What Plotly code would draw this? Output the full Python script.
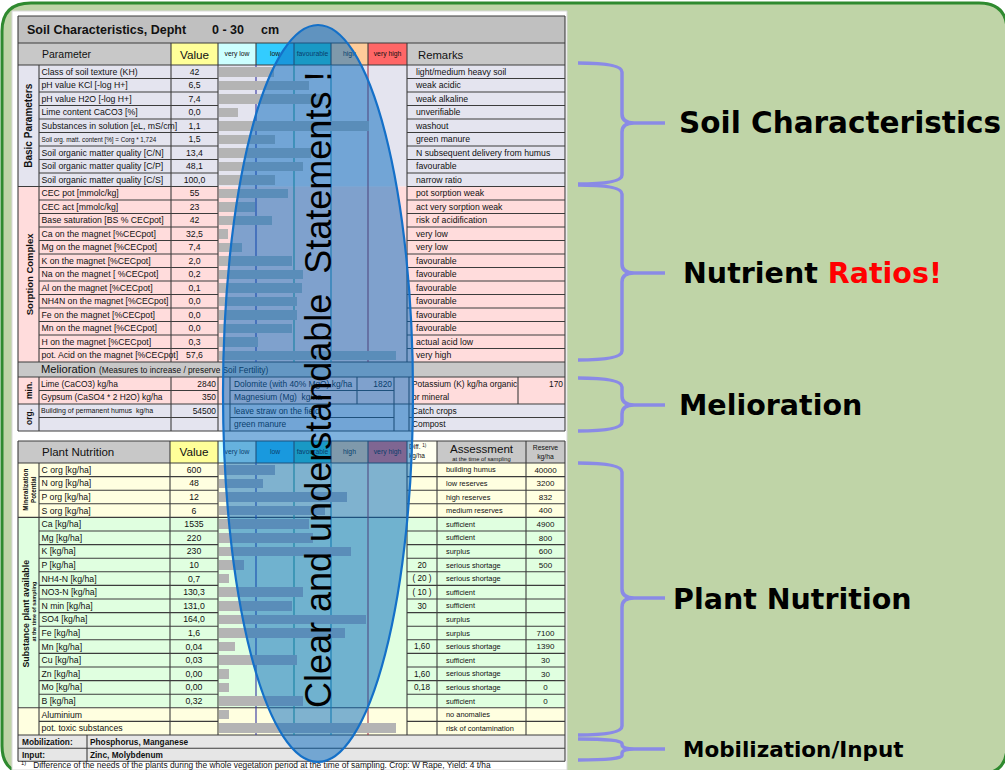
import plotly.graph_objects as go

W, H = 1005, 770
FONT = "Liberation Sans, Arial, sans-serif"

# ---------------- data ----------------
title_main = "Soil Characteristics, Depht"
depth = "0 - 30"
depth_unit = "cm"
rating_labels = ["very low", "low", "favourable", "high", "very high"]
rating_colors = ["#ccffff", "#33ccff", "#33cccc", "#ffcc99", "#ff6666"]

basic_params = ["Class of soil texture (KH)", "pH value KCl [-log H+]", "pH value H2O [-log H+]",
                "Lime content CaCO3 [%]", "Substances in solution [eL, mS/cm]",
                "Soil org. matt. content [%] = Corg * 1,724", "Soil organic matter quality [C/N]",
                "Soil organic matter quality [C/P]", "Soil organic matter quality [C/S]"]
basic_values = ["42", "6,5", "7,4", "0,0", "1,1", "1,5", "13,4", "48,1", "100,0"]
basic_scores = [1.47, 2.42, 2.79, 0.53, 4.0, 1.5, 2.47, 2.26, 1.5]
basic_remarks = ["light/medium heavy soil", "weak acidic", "weak alkaline", "unverifiable", "washout",
                 "green manure", "N subsequent delivery from humus", "favourable", "narrow ratio"]

sorption_params = ["CEC pot [mmolc/kg]", "CEC act [mmolc/kg]", "Base saturation [BS % CECpot]",
                   "Ca on the magnet [%CECpot]", "Mg on the magnet [%CECpot]", "K on the magnet [%CECpot]",
                   "Na on the magnet [ %CECpot]", "Al on the magnet [%CECpot]", "NH4N on the magnet [%CECpot]",
                   "Fe on the magnet [%CECpot]", "Mn on the magnet [%CECpot]", "H on the magnet [%CECpot]",
                   "pot. Acid on the magnet [%CECpot]"]
sorption_values = ["55", "23", "42", "32,5", "7,4", "2,0", "0,2", "0,1", "0,0", "0,0", "0,0", "0,3", "57,6"]
sorption_scores = [1.84, 0.97, 1.42, 0.26, 0.63, 1.97, 2.26, 2.21, 2.08, 2.1, 1.97, 1.05, 4.71]
sorption_remarks = ["pot sorption weak", "act very sorption weak", "risk of acidification", "very low",
                    "very low", "favourable", "favourable", "favourable", "favourable", "favourable",
                    "favourable", "actual acid low", "very high"]

melio_min_names = ["Lime (CaCO3) kg/ha", "Gypsum (CaSO4 * 2 H2O) kg/ha"]
melio_min_values = ["2840", "350"]
melio_org_names = ["Building of permanent humus  kg/ha", ""]
melio_org_values = ["54500", ""]
melio_mid_names = ["Dolomite (with 40% MgO) kg/ha", "Magnesium (Mg)  kg/ha", "leave straw on the field", "green manure"]
melio_mid_values = ["1820", "", "", ""]
melio_right_names = ["Potassium (K) kg/ha organic", "or mineral", "Catch crops", "Compost"]
melio_right_value = "170"

mineral_params = ["C org [kg/ha]", "N org [kg/ha]", "P org [kg/ha]", "S org [kg/ha]"]
mineral_values = ["600", "48", "12", "6"]
mineral_scores = [1.5, 1.18, 3.42, 2.84]
mineral_assess = ["building humus", "low reserves", "high reserves", "medium reserves"]
mineral_reserve = ["40000", "3200", "832", "400"]

avail_params = ["Ca [kg/ha]", "Mg [kg/ha]", "K [kg/ha]", "P [kg/ha]", "NH4-N [kg/ha]", "NO3-N [kg/ha]",
                "N min [kg/ha]", "SO4 [kg/ha]", "Fe [kg/ha]", "Mn [kg/ha]", "Cu [kg/ha]", "Zn [kg/ha]",
                "Mo [kg/ha]", "B [kg/ha]"]
avail_values = ["1535", "220", "230", "10", "0,7", "130,3", "131,0", "164,0", "1,6", "0,04", "0,03",
                "0,00", "0,00", "0,32"]
avail_scores = [2.42, 2.5, 3.53, 0.68, 0.29, 2.26, 1.97, 3.92, 3.37, 0.45, 2.1, 0.29, 0.29, 2.26]
avail_diff = ["", "", "", "20", "( 20 )", "( 10 )", "30", "", "", "1,60", "", "1,60", "0,18", ""]
avail_assess = ["sufficient", "sufficient", "surplus", "serious shortage", "serious shortage", "sufficient",
                "sufficient", "surplus", "surplus", "serious shortage", "sufficient", "serious shortage",
                "serious shortage", "sufficient"]
avail_reserve = ["4900", "800", "600", "500", "", "", "", "", "7100", "1390", "30", "30", "0", "0"]

toxic_params = ["Aluminium", "pot. toxic substances"]
toxic_scores = [0.29, 4.71]
toxic_assess = ["no anomalies", "risk of contamination"]

mobilization_text = "Phosphorus, Manganese"
input_text = "Zinc, Molybdenum"
footnote = ("Difference of the needs of the plants during the whole vegetation period at the time of "
            "sampling. Crop: W Rape, Yield: 4 t/ha")
statement = "Clear and understandable\u00a0\u00a0Statements !"
side_labels = ["Soil Characteristics", "Nutrient <span style='color:#ff0000'>Ratios!</span>",
               "Melioration", "Plant Nutrition", "Mobilization/Input"]

# ---------------- geometry ----------------
XL, XG, XN, XV, XR = 18, 39, 171, 218, 565
XB = [218, 256, 294, 331, 368, 407]
RH = 13.5
T0 = 65
PN = 170
XD, XA = 437, 526
P0, PRH = 463, 13.6
BASE = 0.035

shapes, annotations = [], []
segs = []
texts = {"l": [], "c": [], "r": []}


def rect(x0, y0, x1, y1, fill, line=None, layer="below"):
    shapes.append(dict(type="rect", xref="x", yref="y", x0=x0, y0=y0, x1=x1, y1=y1, fillcolor=fill,
                       line=dict(width=0) if line is None else line, layer=layer))


def hl(x0, x1, y):
    segs.append((x0, y, x1, y))


def vl(x, y0, y1):
    segs.append((x, y0, x, y1))


def T(x, y, s, size=8.7, align="l", bold=False, color="#111111"):
    if s == "":
        return
    if bold:
        s = "<b>" + s + "</b>"
    texts[align].append((x, y + 0.8, s, size, color))


def rot(x, y, s, size, bold=True):
    annotations.append(dict(x=x, y=y, xref="x", yref="y", text=("<b>%s</b>" % s) if bold else s,
                            showarrow=False, textangle=-90, xanchor="center", yanchor="middle",
                            font=dict(family=FONT, size=size, color="#111111")))


# background rounded panel
shapes.append(dict(type="path", xref="x", yref="y", layer="below",
                   path="M 31,3 L 979,3 Q 1007,3 1007,31 L 1007,746 Q 1007,774 979,774 L 31,774 "
                        "Q 2,774 2,746 L 2,31 Q 2,3 31,3 Z",
                   fillcolor="#bfd4a7", line=dict(color="#2f8a2f", width=3)))
rect(12, 11, 567, 770, "#ffffff", line=dict(color="#d8d8d8", width=1))

# ---------------- top table ----------------
rect(XL, 16, XR, 43, "#c0c0c0")
rect(XL, 43, XN, 65, "#c8c8c8")
rect(XN, 43, XV, 65, "#ffff99")
for i in range(5):
    rect(XB[i], 43, XB[i + 1], 65, rating_colors[i])
rect(XB[5], 43, XR, 65, "#c8c8c8")
nb, ns = len(basic_params), len(sorption_params)
yb_end = T0 + nb * RH
ys_end = yb_end + ns * RH
rect(XL, T0, XR, yb_end, "#e4e4ef")
rect(XL, yb_end, XR, ys_end, "#ffdcdc")
ym0 = ys_end
ym1 = ym0 + 15
rect(XL, ym0, XR, ym1, "#c8c8c8")
rect(XL, ym1, XR, ym1 + 2 * RH, "#ffdcdc")
rect(XL, ym1 + 2 * RH, XR, ym1 + 4 * RH, "#e4e4ef")

T(27, 30, title_main, 12.5, bold=True)
T(212, 30, depth, 12.5, bold=True)
T(261, 30, depth_unit, 12.5, bold=True)
T(42, 55, "Parameter", 10.5)
T((XN + XV) / 2, 55, "Value", 11.7, "c")
for i in range(5):
    T((XB[i] + XB[i + 1]) / 2, 54, rating_labels[i], 6.8, "c")
T(418, 55, "Remarks", 11.3)

top_params = basic_params + sorption_params
top_values = basic_values + sorption_values
top_remarks = basic_remarks + sorption_remarks
top_scores = basic_scores + sorption_scores
top_centers = [T0 + (i + 0.5) * RH for i in range(len(top_params))]
for i, yc in enumerate(top_centers):
    sz = 6.3 if "Corg" in top_params[i] else 8.7
    T(XG + 2.5, yc, top_params[i], sz)
    T((XN + XV) / 2, yc, top_values[i], 8.7, "c")
    T(416, yc, top_remarks[i], 8.7)

# top grid
hl(XL, XR, 16); hl(XL, XR, 43); hl(XL, XR, 65)
vl(XL, 16, ym1 + 4 * RH); vl(XR, 16, ym1 + 4 * RH)
for x in [XN, XV] + XB[1:]:
    vl(x, 43, 65)
for x in [XG, XN, XV, XB[5]]:
    vl(x, T0, ys_end)
for i in range(1, len(top_params)):
    y = T0 + i * RH
    if i == nb:
        hl(XL, XV, y); hl(XB[5], XR, y)
    else:
        hl(XG, XV, y); hl(XB[5], XR, y)
hl(XL, XR, ym0); hl(XL, XR, ym1)

# melioration
T(41, (ym0 + ym1) / 2, "Melioration", 11.2)
T(99, (ym0 + ym1) / 2 + 0.5, "(Measures to increase / preserve Soil Fertility)", 8.3)
mr = [ym1 + k * RH for k in range(5)]
mc = [(mr[k] + mr[k + 1]) / 2 for k in range(4)]
left_names = melio_min_names + melio_org_names
left_values = melio_min_values + melio_org_values
for k in range(4):
    T(41, mc[k], left_names[k], 7.0 if "humus" in left_names[k] else 8.4)
    T(XV - 2, mc[k], left_values[k], 8.4, "r")
    T(234, mc[k], melio_mid_names[k], 8.4)
    T(392, mc[k], melio_mid_values[k], 8.4, "r")
    T(412, mc[k], melio_right_names[k], 8.4)
T(XR - 2, mc[0], melio_right_value, 8.4, "r")
rot(28.5, (mr[0] + mr[2]) / 2, "min.", 8.5)
rot(28.5, (mr[2] + mr[4]) / 2, "org.", 8.5)
for x in [XG, XN, XV, 230, 394, 409]:
    vl(x, mr[0], mr[4])
vl(357, mr[0], mr[2]); vl(518, mr[0], mr[2])
hl(XG, XV, mr[1]); hl(230, 394, mr[1])
hl(XL, XR, mr[2])
hl(XG, XV, mr[3]); hl(230, 394, mr[3]); hl(409, XR, mr[3])
hl(XL, XR, mr[4])

rot(29, (T0 + yb_end) / 2, "Basic Parameters", 10)
rot(29, (yb_end + ys_end) / 2, "Sorption Complex", 9.5)

# ---------------- plant table ----------------
PH0 = 441
rect(XL, PH0, PN, P0, "#c8c8c8")
rect(PN, PH0, XV, P0, "#ffff99")
for i in range(5):
    rect(XB[i], PH0, XB[i + 1], P0, rating_colors[i])
rect(XB[5], PH0, XD, P0, "#fffff0")
rect(XD, PH0, XR, P0, "#c8c8c8")
nm, na, nt = len(mineral_params), len(avail_params), len(toxic_params)
pm_end = P0 + nm * PRH
pa_end = pm_end + na * PRH
pt_end = pa_end + nt * PRH
rect(XL, P0, XR, pm_end, "#ffffe0")
rect(XL, pm_end, XR, pa_end, "#e0ffe0")
rect(XL, pa_end, XR, pt_end, "#ffffe0")
mob_mid = pt_end + 13.3
mob_end = mob_mid + 13
rect(XL, pt_end, XR, mob_end, "#e6e6e6")

ph = (PH0 + P0) / 2
T(42, ph, "Plant Nutrition", 11.5)
T((PN + XV) / 2, ph, "Value", 11.7, "c")
for i in range(5):
    T((XB[i] + XB[i + 1]) / 2, ph, rating_labels[i], 6.8, "c")
T(409, ph - 5, "Diff. <sup>1)</sup>", 6.5)
T(409, ph + 4, "kg/ha", 6.5)
T((XD + XA) / 2, ph - 3, "Assessment", 11.6, "c")
T((XD + XA) / 2, ph + 6.5, "at the time of sampling", 5.8, "c")
T((XA + XR) / 2, ph - 4, "Reserve", 6.8, "c")
T((XA + XR) / 2, ph + 4.5, "kg/ha", 6.8, "c")

p_params = mineral_params + avail_params + toxic_params
p_values = mineral_values + avail_values + ["", ""]
p_diff = [""] * nm + avail_diff + ["", ""]
p_assess = mineral_assess + avail_assess + toxic_assess
p_reserve = mineral_reserve + avail_reserve + ["", ""]
p_scores = mineral_scores + avail_scores + toxic_scores
p_centers = [P0 + (i + 0.5) * PRH for i in range(len(p_params))]
for i, yc in enumerate(p_centers):
    T(XG + 2.5, yc, p_params[i], 8.7)
    T((PN + XV) / 2, yc, p_values[i], 8.7, "c")
    T((XB[5] + XD) / 2, yc, p_diff[i], 8.2, "c")
    T(446, yc, p_assess[i], 7.4)
    T((XA + XR) / 2, yc, p_reserve[i], 8.0, "c")

hl(XL, XR, PH0); hl(XL, XR, P0)
vl(XL, PH0, mob_end); vl(XR, PH0, mob_end)
for x in [PN, XV] + XB[1:] + [XD, XA]:
    vl(x, PH0, P0)
for x in [XG, PN, XV, XB[5], XD, XA]:
    vl(x, P0, pt_end)
for i in range(1, len(p_params)):
    y = P0 + i * PRH
    if i in (nm, nm + na):
        hl(XL, XR, y)
    else:
        hl(XG, XV, y); hl(XB[5], XR, y)
hl(XL, XR, pt_end); hl(XL, XR, mob_mid); hl(XL, XR, mob_end)
vl(87, pt_end, mob_end)
T(22, (pt_end + mob_mid) / 2, "Mobilization:", 8.3, bold=True)
T(90, (pt_end + mob_mid) / 2, mobilization_text, 8.3, bold=True)
T(22, (mob_mid + mob_end) / 2, "Input:", 8.3, bold=True)
T(90, (mob_mid + mob_end) / 2, input_text, 8.3, bold=True)
T(21, 765.5, "<sup>1)</sup>\u00a0\u00a0\u00a0" + footnote, 8.4)

annotations.append(dict(x=29.5, y=(P0 + pm_end) / 2, xref="x", yref="y",
                        text="<b>Mineralization<br>Potential</b>", showarrow=False, textangle=-90,
                        font=dict(family=FONT, size=6.3, color="#111111")))
rot(25.5, 614, "Substance plant available", 8.8)
rot(33.5, 612, "at the time of sampling", 5.5)

# ---------------- figure ----------------
fig = go.Figure()

# bars (rating scale 0..5 on a dedicated axis over the rating columns)
all_y = top_centers + p_centers
all_scores = top_scores + p_scores
fig.add_trace(go.Bar(orientation="h", y=all_y, x=[s - BASE for s in all_scores], base=BASE,
                     width=9.5, marker=dict(color="#b4b4b4", line=dict(width=0)),
                     xaxis="x2", yaxis="y", hoverinfo="skip", showlegend=False))

# grid lines
gx, gy = [], []
for x0, y0, x1, y1 in segs:
    gx += [x0, x1, None]
    gy += [y0, y1, None]
fig.add_trace(go.Scatter(x=gx, y=gy, mode="lines", line=dict(color="#3c3c3c", width=1.1),
                         hoverinfo="skip", showlegend=False, cliponaxis=False))

cat_line_colors = ["#3434a0", "#2a9a86", "#2a8fa8", "#a03048"]
for j, c in enumerate(cat_line_colors):
    x = XB[j + 1]
    fig.add_trace(go.Scatter(x=[x, x, None, x, x], y=[T0, ys_end, None, P0, pt_end], mode="lines",
                             line=dict(color=c, width=1.1), hoverinfo="skip", showlegend=False))

pos = {"l": "middle right", "c": "middle center", "r": "middle left"}
for a, items in texts.items():
    fig.add_trace(go.Scatter(x=[i[0] for i in items], y=[i[1] for i in items],
                             text=[i[2] for i in items], mode="text", textposition=pos[a],
                             textfont=dict(family=FONT, size=[i[3] for i in items],
                                           color=[i[4] for i in items]),
                             hoverinfo="skip", showlegend=False, cliponaxis=False))

# overlay ellipse with statement
shapes.append(dict(type="circle", xref="x", yref="y", x0=223, x1=413, y0=25, y1=762,
                   fillcolor="rgba(0,102,190,0.5)", line=dict(color="#1470c8", width=2.2),
                   layer="above"))
annotations.append(dict(x=318, y=390, xref="x", yref="y", text=statement, showarrow=False,
                        textangle=-90, xanchor="center", yanchor="middle",
                        font=dict(family=FONT, size=36, color="#000000")))


# braces and side labels
def brace(top, mid, bot, xl=578, xv=622, xt=665):
    r = min(9, (mid - top) / 2 - 0.5, (bot - mid) / 2 - 0.5)
    return (f"M {xl},{top} Q {xv},{top} {xv},{top + r} L {xv},{mid - r} "
            f"Q {xv},{mid} {xv + 12},{mid} L {xt},{mid} M {xv + 12},{mid} "
            f"Q {xv},{mid} {xv},{mid + r} L {xv},{bot - r} Q {xv},{bot} {xl},{bot}")


brace_spans = [(63, 123, 184), (185, 273, 360), (378, 405, 431), (463, 598, 735), (739, 749, 760)]
label_pos = [(677, 123), (681, 273), (677, 405), (671, 599), (681, 749)]
label_sizes = [29.5, 28.5, 28.5, 28.5, 21.5]
for (t, m, b) in brace_spans:
    shapes.append(dict(type="path", xref="x", yref="y", path=brace(t, m, b),
                       line=dict(color="#8a8ae6", width=3.5), layer="above"))
for lab, (x, y), sz in zip(side_labels, label_pos, label_sizes):
    annotations.append(dict(x=x, y=y, xref="x", yref="y", text="<b>" + lab + "</b>", showarrow=False,
                            xanchor="left", yanchor="middle",
                            font=dict(family="DejaVu Sans", size=sz, color="#000000")))

fig.update_layout(
    width=W, height=H, margin=dict(l=0, r=0, t=0, b=0),
    paper_bgcolor="#ffffff", plot_bgcolor="rgba(0,0,0,0)",
    xaxis=dict(range=[0, W], visible=False, fixedrange=True),
    yaxis=dict(range=[H, 0], visible=False, fixedrange=True),
    xaxis2=dict(domain=[XB[0] / W, XB[5] / W], range=[0, 5], anchor="y", visible=False, fixedrange=True),
    shapes=shapes, annotations=annotations, showlegend=False, bargap=0,
)

fig.write_html("out.html", config={"displayModeBar": False},
               post_script="document.body.style.margin='0px';document.body.style.overflow='hidden';")
